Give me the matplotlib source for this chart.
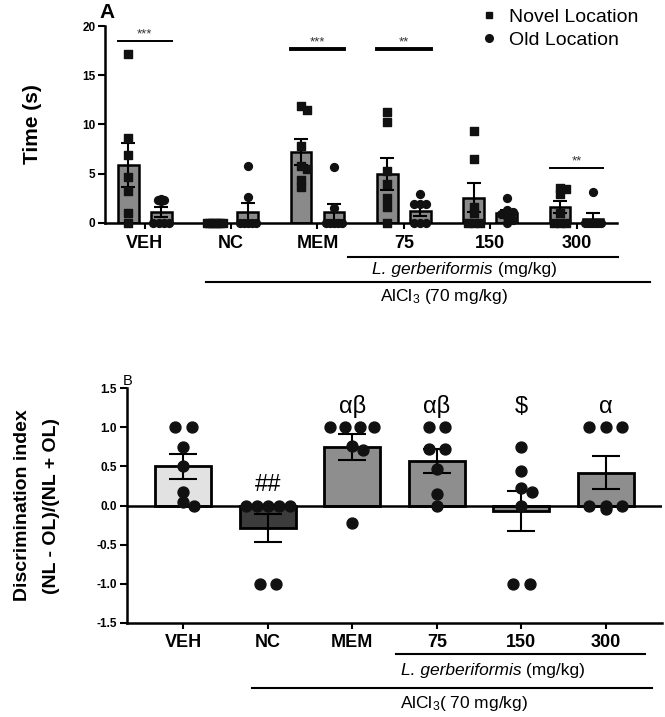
import matplotlib
matplotlib.use('Agg')
import matplotlib.pyplot as plt
import numpy as np
from matplotlib.lines import Line2D
from matplotlib.transforms import blended_transform_factory

plt.rcParams['font.family'] = ['Liberation Sans', 'DejaVu Sans']
plt.rcParams['mathtext.fontset'] = 'custom'
plt.rcParams['mathtext.rm'] = 'Liberation Sans'
plt.rcParams['mathtext.it'] = 'Liberation Sans:italic'

groups = ['VEH', 'NC', 'MEM', '75', '150', '300']

# panel A: time (s) exploring novel / old location
novel_mean = [5.87, 0.0, 7.16, 4.95, 2.54, 1.56]
novel_sem = [2.2, 0.0, 1.34, 1.65, 1.5, 0.6]
old_mean = [1.05, 1.12, 1.1, 1.22, 0.95, 0.38]
old_sem = [0.5, 0.9, 0.8, 0.55, 0.3, 0.58]
novel_pts = [[17.2, 8.6, 6.9, 4.6, 3.2, 1.0, 0.0],
             [0, 0, 0, 0, 0, 0, 0],
             [11.9, 11.5, 7.8, 5.8, 5.5, 4.3, 3.6],
             [11.3, 10.2, 5.3, 3.9, 2.5, 1.6, 0],
             [9.3, 6.5, 1.6, 1.0, 0, 0, 0],
             [3.5, 3.4, 2.9, 1.0, 0, 0, 0]]
old_pts = [[2.4, 2.3, 2.3, 2.2, 0, 0, 0, 0],
           [5.8, 2.6, 0, 0, 0, 0, 0],
           [5.7, 1.5, 0, 0, 0, 0, 0],
           [2.9, 1.9, 1.9, 1.9, 0, 0, 0],
           [2.5, 1.3, 1.1, 0.9, 0.8, 0.6, 0.3, 0],
           [3.1, 0, 0, 0, 0, 0, 0, 0]]
sig_groups = [0, 2, 3, 5]
sig_labels = ['***', '***', '**', '**']
sig_heights = [18.5, 17.7, 17.7, 5.6]

# panel B: discrimination index
di_mean = [0.50, -0.29, 0.75, 0.57, -0.07, 0.42]
di_sem = [0.16, 0.18, 0.17, 0.15, 0.26, 0.21]
di_pts = [[1.0, 1.0, 0.75, 0.5, 0.17, 0.04, 0.0],
          [0, 0, 0, 0, 0, -1, -1],
          [1, 1, 1, 1, 0.76, 0.71, -0.23],
          [1, 1, 0.72, 0.72, 0.47, 0.15, 0],
          [0.75, 0.44, 0.22, 0.17, 0, -1, -1],
          [1, 1, 1, 0, 0, 0, -0.05]]
di_marks = ['', '##', 'αβ', 'αβ', '$', 'α']
di_colors = ['#e2e2e2', '#3c3c3c', '#8e8e8e', '#8e8e8e', '#8e8e8e', '#8e8e8e']


def swarm(ax, xc, vals, d, maxw, row=1.0):
    # spread points sideways (pixel space) so they don't pile up
    vals = np.asarray(vals, dtype=float)
    tr = ax.transData
    ppx = tr.transform((1, 0))[0] - tr.transform((0, 0))[0]
    ypx = tr.transform(np.column_stack([np.full(len(vals), xc), vals]))[:, 1]
    offs = np.zeros(len(vals))
    placed = []
    for u in sorted(set(vals), reverse=True):
        idx = np.where(vals == u)[0]
        n = len(idx)
        if n > 1:
            step = min(d * row, maxw / (n - 1))
            o = (np.arange(n) - (n - 1) / 2) * step
        else:
            y = ypx[idx[0]]
            o = [0.0]
            for k in range(0, 12):
                cand = [0] if k == 0 else [k, -k]
                ok = None
                for s in cand:
                    off = s * d / 2
                    if abs(off) > maxw / 2:
                        continue
                    if all((off - px) ** 2 + (y - py) ** 2 >= (0.85 * d) ** 2 for px, py in placed):
                        ok = off
                        break
                if ok is not None:
                    o = [ok]
                    break
        for i, v in zip(idx, o):
            offs[i] = v
            placed.append((v, ypx[i]))
    return xc + offs / ppx


def split_label(ax, x0, y0, tr, size):
    t = ax.text(x0, y0, 'L. gerberiformis', transform=tr, ha='left', va='center',
                fontsize=size, style='italic')
    ax.annotate(' (mg/kg)', xy=(1, 0.5), xycoords=t, ha='left', va='center', fontsize=size)


fig = plt.figure(figsize=(6.65, 7.17), dpi=100)
x = np.arange(len(groups))

# ---------------- panel A
axA = fig.add_axes([0.158, 0.6894, 0.77, 0.2743])
axA.set_xlim(-0.46, 5.47)
axA.set_ylim(0, 20)
w = 0.24
dx = 0.19
axA.bar(x - dx, novel_mean, w, color='#8a8a8a', edgecolor='black', linewidth=1.8, zorder=1)
axA.bar(x + dx, old_mean, w, color='#8a8a8a', edgecolor='black', linewidth=1.8, zorder=1)
for i in range(len(groups)):
    if novel_sem[i] > 0:
        axA.errorbar(x[i] - dx, novel_mean[i], yerr=novel_sem[i], color='black', lw=1.5,
                     capsize=5, capthick=1.5, zorder=2)
    axA.errorbar(x[i] + dx, old_mean[i], yerr=old_sem[i], color='black', lw=1.5,
                 capsize=5, capthick=1.5, zorder=2)
for i in range(len(groups)):
    xs = swarm(axA, x[i] - dx, novel_pts[i], 6, 16)
    axA.scatter(xs, novel_pts[i], marker='s', s=28, color='#111111', zorder=3, clip_on=False)
    xs = swarm(axA, x[i] + dx, old_pts[i], 6, 16)
    axA.scatter(xs, old_pts[i], marker='o', s=32, color='#111111', zorder=3, clip_on=False)

for g, lab, h in zip(sig_groups, sig_labels, sig_heights):
    lw = 1.4 if g in (0, 5) else 2.8
    axA.plot([g - dx - 0.12, g + dx + 0.12], [h, h], color='black', lw=lw, clip_on=False)
    axA.text(g, h + 0.05, lab, ha='center', va='bottom', fontsize=9.5, color='#333333')

axA.spines['top'].set_visible(False)
axA.spines['right'].set_visible(False)
for sp in ('left', 'bottom'):
    axA.spines[sp].set_linewidth(1.8)
axA.set_yticks([0, 5, 10, 15, 20])
axA.set_xticks(x)
axA.set_xticklabels(groups, fontsize=13, fontweight='bold')
axA.tick_params(axis='y', labelsize=8.5, width=1.5, length=5, pad=2)
axA.tick_params(axis='x', width=1.5, length=4, pad=5)
for t in axA.get_yticklabels():
    t.set_fontweight('bold')
axA.set_ylabel('Time (s)', fontsize=15, fontweight='bold', labelpad=29)

trA = blended_transform_factory(axA.transData, axA.transAxes)
axA.plot([2.355, 5.476], [-0.173, -0.173], color='black', lw=1.5, transform=trA, clip_on=False)
split_label(axA, 2.63, -0.24, trA, 12.5)
axA.plot([0.708, 5.85], [-0.303, -0.303], color='black', lw=1.5, transform=trA, clip_on=False)
axA.text(3.46, -0.376, r'AlCl$_3$ (70 mg/kg)', transform=trA, ha='center', va='center',
         fontsize=12.5)

axA.text(-0.52, 20.4, 'A', fontsize=15, fontweight='bold', ha='left', va='bottom')

handles = [Line2D([], [], marker='s', ls='', color='#111111', markersize=5),
           Line2D([], [], marker='o', ls='', color='#111111', markersize=5.5)]
fig.legend(handles, ['Novel Location', 'Old Location'], loc='upper left',
           bbox_to_anchor=(0.698, 1.013), frameon=False, fontsize=14,
           handlelength=0.8, handletextpad=0.6, labelspacing=0.3)

# ---------------- panel B
axB = fig.add_axes([0.1905, 0.1315, 0.8045, 0.3269])
axB.set_xlim(-0.67, 5.66)
axB.set_ylim(-1.5, 1.5)
axB.bar(x, di_mean, 0.66, color=di_colors, edgecolor='black', linewidth=2.0, zorder=1)
axB.errorbar(x, di_mean, yerr=di_sem, fmt='none', ecolor='black', elinewidth=1.5,
             capsize=10, capthick=1.5, zorder=2)
axB.axhline(0, color='black', lw=1.8, zorder=1.5)
for i in range(len(groups)):
    xs = swarm(axB, x[i], di_pts[i], 11, 44, row=1.5)
    axB.scatter(xs, di_pts[i], marker='o', s=62, color='#111111', zorder=3, clip_on=False)
    if di_marks[i]:
        yy = 0.12 if i == 1 else 1.12
        axB.text(x[i], yy, di_marks[i], ha='center', va='bottom', fontsize=17)

axB.spines['top'].set_visible(False)
axB.spines['right'].set_visible(False)
for sp in ('left', 'bottom'):
    axB.spines[sp].set_linewidth(1.8)
yt = np.arange(-1.5, 1.6, 0.5)
axB.set_yticks(yt)
axB.set_yticklabels(['%.1f' % v for v in yt], fontsize=8.5, fontweight='bold')
axB.set_xticks(x)
axB.set_xticklabels(groups, fontsize=13, fontweight='bold')
axB.tick_params(axis='y', width=1.5, length=5, pad=2)
axB.tick_params(axis='x', width=1.5, length=4, pad=4)
axB.set_ylabel('Discrimination index\n(NL - OL)/(NL + OL)', fontsize=14, fontweight='bold',
               labelpad=26, linespacing=1.95)

trB = blended_transform_factory(axB.transData, axB.transAxes)
axB.plot([2.52, 5.46], [-0.134, -0.134], color='black', lw=1.5, transform=trB, clip_on=False)
split_label(axB, 2.57, -0.202, trB, 12.5)
axB.plot([0.807, 5.54], [-0.277, -0.277], color='black', lw=1.5, transform=trB, clip_on=False)
axB.text(3.32, -0.343, r'AlCl$_3$( 70 mg/kg)', transform=trB, ha='center', va='center',
         fontsize=12.5)
axB.text(-0.72, 1.5, 'B', fontsize=10.5, ha='left', va='bottom')

fig.savefig('out.png', dpi=100)
